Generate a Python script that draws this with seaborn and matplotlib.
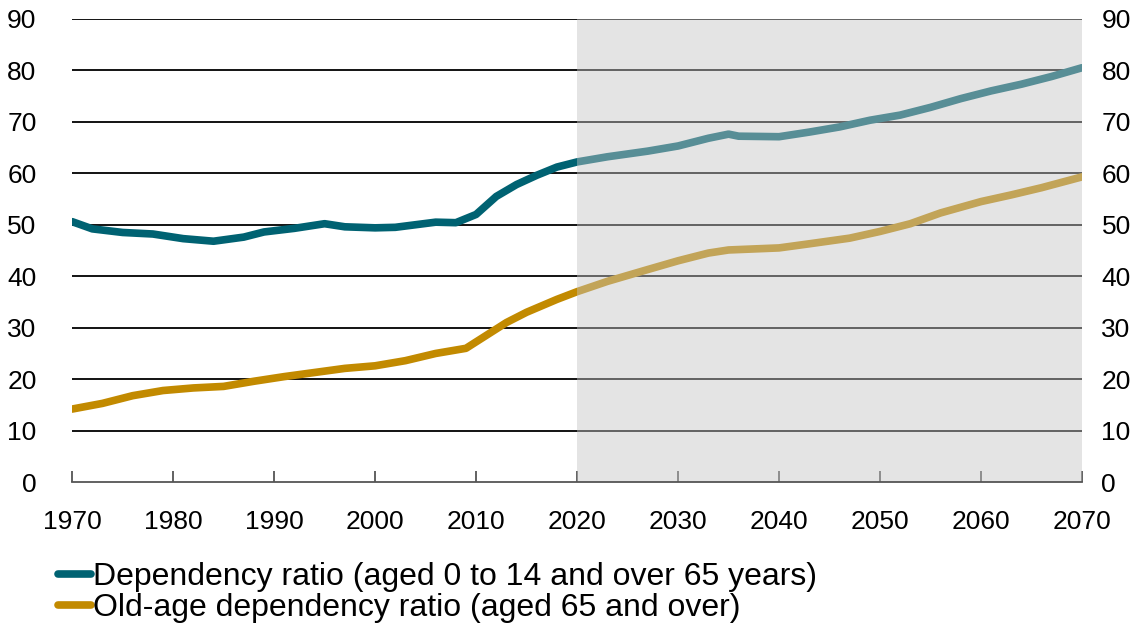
"""Dependency ratios, 1970-2070, with projection period shaded."""

import matplotlib.pyplot as plt
import pandas as pd
import seaborn as sns

dep_years = [1970, 1972, 1975, 1978, 1981, 1984, 1987, 1989, 1992, 1995, 1997,
             2000, 2002, 2004, 2006, 2008, 2010, 2012, 2014, 2016, 2018, 2020,
             2023, 2027, 2030, 2033, 2035, 2036, 2040, 2043, 2046, 2049, 2052,
             2055, 2058, 2061, 2064, 2067, 2070]
dep_values = [50.6, 49.2, 48.5, 48.2, 47.3, 46.8, 47.6, 48.6, 49.3, 50.2, 49.6,
              49.4, 49.5, 50.0, 50.5, 50.4, 52.0, 55.5, 57.8, 59.6, 61.2, 62.2,
              63.2, 64.3, 65.3, 66.8, 67.6, 67.2, 67.1, 68.0, 69.0, 70.3, 71.3,
              72.8, 74.5, 76.0, 77.3, 78.8, 80.5]

old_years = [1970, 1973, 1976, 1979, 1982, 1985, 1988, 1991, 1994, 1997, 2000,
             2003, 2006, 2009, 2011, 2013, 2015, 2018, 2020, 2023, 2027, 2030,
             2033, 2035, 2040, 2043, 2047, 2050, 2053, 2056, 2060, 2063, 2066,
             2070]
old_values = [14.2, 15.3, 16.8, 17.8, 18.3, 18.6, 19.6, 20.5, 21.3, 22.1, 22.6,
              23.6, 25.0, 26.0, 28.5, 31.0, 33.0, 35.5, 37.0, 39.0, 41.3, 43.0,
              44.5, 45.1, 45.5, 46.3, 47.4, 48.7, 50.2, 52.3, 54.5, 55.8, 57.2,
              59.3]

dep_label = "Dependency ratio (aged 0 to 14 and over 65 years)"
old_label = "Old-age dependency ratio (aged 65 and over)"
projection_start = 2020
x_ticks = list(range(1970, 2071, 10))
y_ticks = list(range(0, 91, 10))

df = pd.concat([
    pd.DataFrame({"year": dep_years, "value": dep_values, "series": dep_label}),
    pd.DataFrame({"year": old_years, "value": old_values, "series": old_label}),
])

sns.set_style("white")
plt.rcParams["font.family"] = ["Liberation Sans", "DejaVu Sans"]
plt.rcParams["text.color"] = "black"
plt.rcParams["xtick.labelcolor"] = "black"
plt.rcParams["ytick.labelcolor"] = "black"

fig = plt.figure(figsize=(11.45, 6.27), dpi=100)
ax = fig.add_axes([0.063, 0.231, 0.882, 0.739])

sns.lineplot(data=df, x="year", y="value", hue="series",
             palette={dep_label: "#006272", old_label: "#c28a00"},
             linewidth=5.5, ax=ax, zorder=3)

# black grid lines, then a translucent overlay that lightens the projection
for y in y_ticks[1:]:
    ax.axhline(y, color="black", linewidth=1.3, zorder=2)
ax.axvspan(projection_start, 2070, color="#c4c4c4", alpha=0.45,
           linewidth=0, zorder=4)

ax.set_xlim(1970, 2070)
ax.set_ylim(0, 90)
ax.set_xticks(x_ticks)
ax.set_yticks(y_ticks)
ax.set_xlabel("")
ax.set_ylabel("")

for side in ["left", "right", "top"]:
    ax.spines[side].set_visible(False)
ax.spines["bottom"].set_color("#555555")
ax.spines["bottom"].set_linewidth(1.3)
ax.spines["bottom"].set_zorder(5)

ax.tick_params(axis="x", direction="in", length=8, width=1.3, color="#555555",
               bottom=True, labelsize=19, pad=20)
ax.tick_params(axis="y", length=0, labelsize=19, pad=14,
               labelleft=True, labelright=True)
for t in ax.yaxis.get_major_ticks():
    t.label1.set_x(-0.016)

handles, labels = ax.get_legend_handles_labels()
ax.get_legend().remove()
fig.legend(handles, labels, loc="lower left", bbox_to_anchor=(0.031, -0.03),
           frameon=False, fontsize=23, handlelength=1.05, handletextpad=0.05,
           labelspacing=0.05, borderaxespad=0.3)

fig.savefig("out.png", dpi=100)
